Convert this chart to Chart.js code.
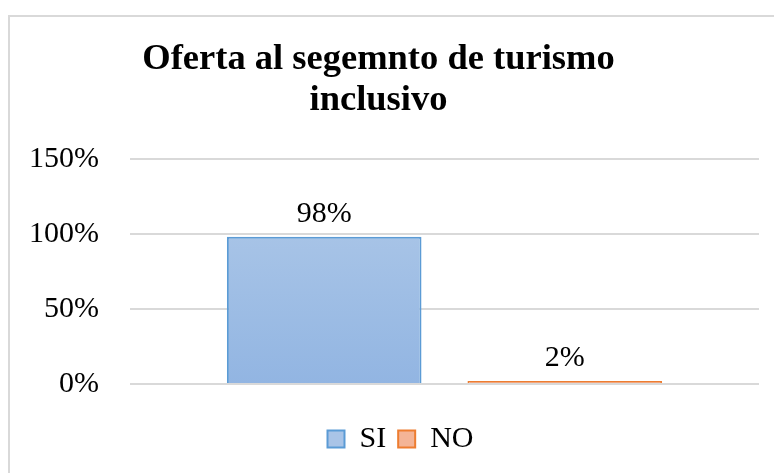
<!DOCTYPE html>
<html>
<head>
<meta charset="utf-8">
<script src="https://cdn.jsdelivr.net/npm/chart.js@4/dist/chart.umd.min.js"></script>
<style>
  html, body { margin: 0; padding: 0; background: #fff; overflow: hidden; }
  #wrap { position: relative; width: 774px; height: 473px; }
  #frame { position: absolute; left: 8px; top: 15px; width: 820px; height: 520px; border: 2px solid #d9d9d9; }
  #chart { position: absolute; left: 0; top: 0; }
</style>
</head>
<body>
<div id="wrap">
  <div id="frame"></div>
  <canvas id="chart" width="774" height="473"></canvas>
</div>
<script>
const categories = [''];
const seriesNames = ['SI', 'NO'];
const siValues = [98];
const noValues = [2];
const yTicks = [0, 50, 100, 150];

const serif = "'Liberation Serif', 'Times New Roman', serif";

function vGradient(top, bottom) {
  return function (context) {
    const area = context.chart.chartArea;
    if (!area) return bottom;
    const g = context.chart.ctx.createLinearGradient(0, area.top, 0, area.bottom);
    g.addColorStop(0, top);
    g.addColorStop(1, bottom);
    return g;
  };
}

const legendFills = ['#a9c4e7', '#f4b496'];

const valueLabels = {
  id: 'valueLabels',
  afterDatasetsDraw(chart) {
    const { ctx } = chart;
    ctx.save();
    ctx.font = '30px ' + serif;
    ctx.fillStyle = '#000';
    ctx.textAlign = 'center';
    ctx.textBaseline = 'middle';
    chart.data.datasets.forEach((ds, i) => {
      const meta = chart.getDatasetMeta(i);
      meta.data.forEach((bar, j) => {
        ctx.fillText(ds.data[j] + '%', bar.x, bar.y - 23);
      });
    });
    ctx.restore();
  }
};

// nudge the legend a bit right, like the original
const legendShift = {
  id: 'legendShift',
  afterLayout(chart) {
    if (chart.legend) {
      chart.legend.left += 22;
      chart.legend.right += 22;
    }
  }
};

new Chart(document.getElementById('chart'), {
  type: 'bar',
  data: {
    labels: categories,
    datasets: [
      {
        label: seriesNames[0],
        data: siValues,
        backgroundColor: vGradient('#b2cbe9', '#92b5e2'),
        borderColor: '#5b9bd5',
        borderWidth: 2
      },
      {
        label: seriesNames[1],
        data: noValues,
        backgroundColor: vGradient('#f7c6ab', '#f2a57b'),
        borderColor: '#ed7d31',
        borderWidth: 2
      }
    ]
  },
  options: {
    responsive: false,
    animation: false,
    categoryPercentage: 0.765,
    barPercentage: 0.809,
    layout: { padding: { left: -2, right: 15, top: 15, bottom: 9 } },
    plugins: {
      title: {
        display: true,
        text: ['Oferta al segemnto de turismo', 'inclusivo'],
        color: '#000',
        font: { family: serif, size: 36.5, weight: 'bold', lineHeight: 1.12 },
        padding: { top: 24, bottom: 38 }
      },
      legend: {
        position: 'bottom',
        labels: {
          color: '#000',
          font: { family: serif, size: 30 },
          boxWidth: 17,
          boxHeight: 17,
          padding: 12,
          generateLabels(chart) {
            const items = Chart.defaults.plugins.legend.labels.generateLabels(chart);
            items.forEach((it, i) => {
              it.fillStyle = legendFills[i];
              it.lineWidth = 2;
            });
            return items;
          }
        }
      },
      tooltip: { enabled: false }
    },
    scales: {
      x: {
        ticks: { display: false },
        grid: { display: false },
        border: { display: false },
        afterFit(axis) { axis.height = 28; }
      },
      y: {
        min: 0,
        max: 150,
        afterBuildTicks(axis) {
          axis.ticks = yTicks.map(v => ({ value: v }));
        },
        ticks: {
          color: '#000',
          font: { family: serif, size: 30 },
          padding: 31,
          callback: v => v + '%'
        },
        grid: { color: '#d9d9d9', lineWidth: 2, drawTicks: false },
        border: { display: false }
      }
    }
  },
  plugins: [valueLabels, legendShift]
});
</script>
</body>
</html>
